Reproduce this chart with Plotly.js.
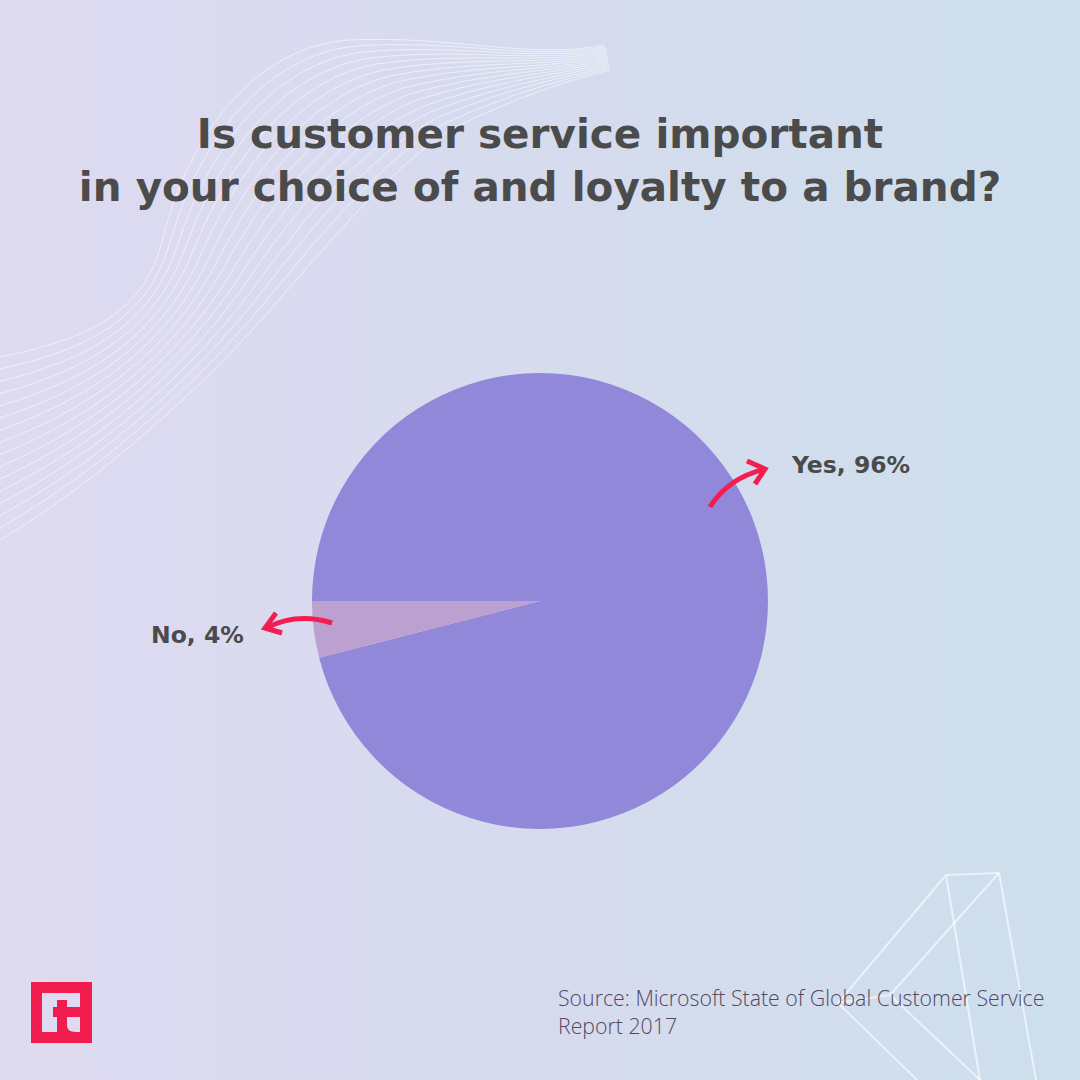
<!DOCTYPE html>
<html><head><meta charset="utf-8">
<script src="https://cdn.plot.ly/plotly-3.0.1.min.js"></script>
<style>
html,body{margin:0;padding:0;}
body{width:1080px;height:1080px;background:linear-gradient(to right,#dedaf1 0%,#d6dbee 50%,#cddfec 100%);}
#chart{width:1080px;height:1080px;}
</style>
</head><body><div id="chart"></div>
<script>
// ---- data ----
const categories = ["Yes", "No"];
const values = [96, 4];
const sliceColors = ["#9188d9", "#bca0d0"];
const titleLines = ["Is customer service important", "in your choice of and loyalty to a brand?"];
const sourceLines = ["Source: Microsoft State of Global Customer Service", "Report 2017"];

// ---- helpers: pixel -> paper ----
const W = 1080, H = 1080;
const X = x => x / W;
const Y = y => 1 - y / H;
function path(cmds) {
  return cmds.map(c => c[0] + (c.length > 1 ? ' ' + c.slice(1).map((v, i) => i % 2 === 0 ? X(v).toFixed(5) : Y(v).toFixed(5)).join(',') : '')).join(' ');
}

const shapes = [];

// decorative wave bundle (top-left)
const waveTop = [0,357, 110,335, 150,300, 165,230, 195,120, 265,45, 350,40, 450,35, 530,60, 605,45];
const waveBot = [0,540, 100,480, 200,390, 270,310, 340,230, 390,170, 450,130, 520,95, 570,80, 610,70];
const nLines = 16;
for (let k = 0; k < nLines; k++) {
  const t = k / (nLines - 1);
  const p = waveTop.map((v, i) => v + (waveBot[i] - v) * t);
  shapes.push({
    type: 'path', xref: 'paper', yref: 'paper', layer: 'below',
    path: path([['M', p[0], p[1]], ['C', p[2], p[3], p[4], p[5], p[6], p[7]], ['C', p[8], p[9], p[10], p[11], p[12], p[13]], ['C', p[14], p[15], p[16], p[17], p[18], p[19]]]),
    line: {color: 'rgba(255,255,255,0.55)', width: 1}
  });
}

// decorative diamond (bottom-right)
const dLines = [
  [946,875, 999,873], [946,875, 838,1003], [999,873, 890,995], [838,1003, 890,995],
  [838,1003, 917,1080], [890,995, 980,1080], [946,875, 980,1080], [999,873, 1036,1080]
];
dLines.forEach(l => shapes.push({
  type: 'line', xref: 'paper', yref: 'paper', layer: 'below',
  x0: X(l[0]), y0: Y(l[1]), x1: X(l[2]), y1: Y(l[3]),
  line: {color: 'rgba(255,255,255,0.6)', width: 2}
}));

// arrows
const arrowColor = '#f21d50';
const arrows = [
  [['M', 710, 507], ['Q', 728, 478, 765, 469]],
  [['M', 747, 461], ['L', 765, 469], ['L', 755, 484]],
  [['M', 332, 623], ['Q', 297, 612, 266, 628]],
  [['M', 276, 613], ['L', 265, 628], ['L', 282, 633]]
];
arrows.forEach(a => shapes.push({
  type: 'path', xref: 'paper', yref: 'paper', layer: 'above',
  path: path(a), line: {color: arrowColor, width: 5}
}));

// logo
const logoRed = '#f21d4f';
const rect = (x0, y0, x1, y1, c) => ({type: 'rect', xref: 'paper', yref: 'paper', layer: 'above',
  x0: X(x0), y0: Y(y1), x1: X(x1), y1: Y(y0), fillcolor: c, line: {width: 0}});
shapes.push(rect(31, 982, 92, 1043, logoRed));
shapes.push(rect(42, 993, 80, 1032, '#dedaf1'));
shapes.push(rect(57, 1000, 67, 1043, logoRed));
shapes.push(rect(53, 1007, 80, 1017, logoRed));
shapes.push({type: 'path', xref: 'paper', yref: 'paper', layer: 'above',
  path: path([['M', 66, 1022], ['Q', 66, 1032, 76, 1032], ['L', 81, 1032], ['L', 81, 1043], ['L', 66, 1043]]) + ' Z',
  fillcolor: logoRed, line: {width: 0}});

// annotations
const annotations = [
  {text: categories[0] + ', ' + values[0] + '%', x: X(789), y: Y(465), xanchor: 'left', yanchor: 'middle', size: 23.5},
  {text: categories[1] + ', ' + values[1] + '%', x: X(149), y: Y(635), xanchor: 'left', yanchor: 'middle', size: 23.5}
].map(a => {
  const s = a.size; delete a.size;
  return Object.assign(a, {xref: 'paper', yref: 'paper', showarrow: false,
    font: {family: 'DejaVu Sans', size: s, weight: 700, color: '#4a4a4a'}});
});

annotations.push({
  text: sourceLines.join('<br>'), x: X(556), y: Y(1011), xref: 'paper', yref: 'paper',
  xanchor: 'left', yanchor: 'middle', align: 'left', showarrow: false,
  font: {family: 'Open Sans', size: 21.3, weight: 300, color: '#55475f'}
});

const trace = {
  type: 'pie', labels: categories, values: values, sort: false,
  direction: 'clockwise', rotation: 270,
  marker: {colors: sliceColors, line: {width: 0}},
  textinfo: 'none', hoverinfo: 'label+percent',
  domain: {x: [X(312), X(768)], y: [Y(829), Y(373)]}
};

const layout = {
  width: W, height: H, autosize: false,
  margin: {l: 0, r: 0, t: 0, b: 0},
  paper_bgcolor: 'rgba(0,0,0,0)', plot_bgcolor: 'rgba(0,0,0,0)',
  showlegend: false,
  title: {text: titleLines.join('<br>'), x: 0.5, xanchor: 'center', y: Y(148), yanchor: 'middle', yref: 'container',
    font: {family: 'DejaVu Sans', size: 40.5, weight: 700, color: '#4b4b4b'}},
  shapes: shapes,
  annotations: annotations
};

Plotly.newPlot('chart', [trace], layout, {displayModeBar: false, staticPlot: true});
</script>
</body></html>
